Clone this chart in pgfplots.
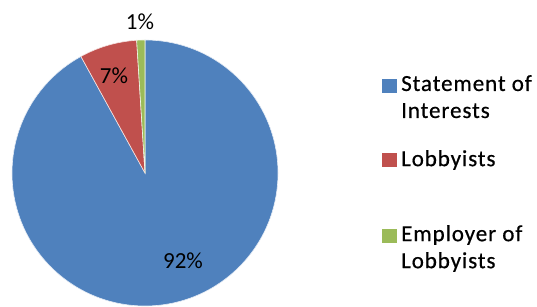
\documentclass[border=0pt]{standalone}
\usepackage{pgfplots}
\usepackage{pgfplotstable}
\pgfplotsset{compat=1.18}
\usepackage{fontspec}
\setmainfont{Carlito}
\newfontfamily\legfont{Carlito}[LetterSpace=4,FakeBold=0.6]
\definecolor{cblue}{HTML}{4F81BD}
\definecolor{cred}{HTML}{C0504D}
\definecolor{cgreen}{HTML}{9BBB59}
\pgfplotstableread{
label value
Statement 92
Lobbyists 7
Employer 1
}\piedata
\begin{document}
\begin{tikzpicture}
\begin{axis}[
  scale only axis, width=537pt, height=307pt,
  xmin=0, xmax=537, ymin=0, ymax=307,
  hide axis, clip=false,
]
\path (axis cs:0,0) rectangle (axis cs:537,307);
\pgfplotstablegetelem{0}{value}\of\piedata \pgfmathsetmacro{\valA}{\pgfplotsretval}
\pgfplotstablegetelem{1}{value}\of\piedata \pgfmathsetmacro{\valB}{\pgfplotsretval}
\pgfplotstablegetelem{2}{value}\of\piedata \pgfmathsetmacro{\valC}{\pgfplotsretval}
\pgfmathsetmacro{\tot}{\valA+\valB+\valC}
\pgfmathsetmacro{\angA}{90-\valA/\tot*360}
\pgfmathsetmacro{\angB}{\angA-\valB/\tot*360}
\pgfmathsetmacro{\angC}{\angB-\valC/\tot*360}
\fill[cblue, draw=white!85!cblue, line width=0.6pt] (axis cs:145,134) -- ++(90:133pt) arc[start angle=90, end angle=\angA, radius=133pt] -- cycle;
\fill[cred, draw=white!85!cred, line width=0.6pt] (axis cs:145,134) -- ++(\angA:133pt) arc[start angle=\angA, end angle=\angB, radius=133pt] -- cycle;
\fill[cgreen, draw=white!85!cgreen, line width=0.6pt] (axis cs:145,134) -- ++(\angB:133pt) arc[start angle=\angB, end angle=\angC, radius=133pt] -- cycle;
\node[font=\fontsize{23}{27}\selectfont] at (axis cs:183,46) {92\%};
\node[font=\fontsize{23}{27}\selectfont] at (axis cs:114,231) {7\%};
\node[font=\fontsize{23}{27}\selectfont] at (axis cs:140,285) {1\%};
% legend
\fill[cblue] (axis cs:382,214) rectangle (axis cs:397,228);
\fill[cred] (axis cs:382,140) rectangle (axis cs:397,154);
\fill[cgreen] (axis cs:382,64) rectangle (axis cs:397,78);
\node[anchor=north west, inner sep=0pt, align=left, font=\legfont\fontsize{23}{27}\selectfont] at (axis cs:401,232) {Statement of\\Interests};
\node[anchor=west, inner sep=0pt, align=left, font=\legfont\fontsize{23}{27}\selectfont] at (axis cs:401,147) {Lobbyists};
\node[anchor=north west, inner sep=0pt, align=left, font=\legfont\fontsize{23}{27}\selectfont] at (axis cs:401,82) {Employer of\\Lobbyists};
\end{axis}
\end{tikzpicture}
\end{document}
